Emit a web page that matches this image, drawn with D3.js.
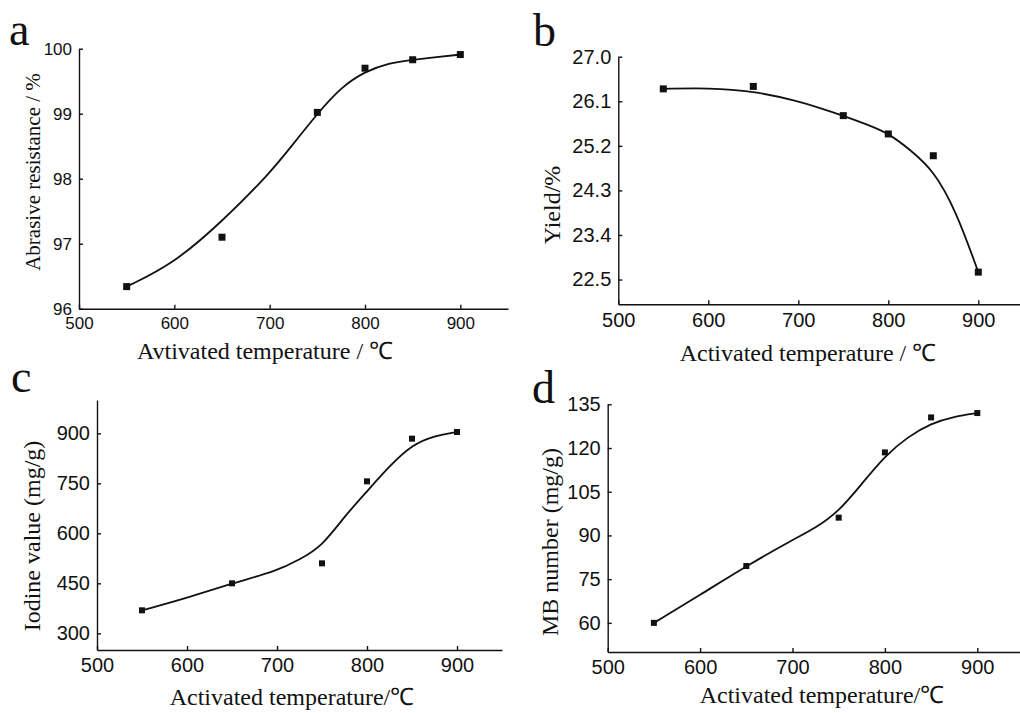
<!DOCTYPE html>
<html lang="en">
<head>
<meta charset="utf-8">
<title>Activation temperature panels</title>
<script src="https://d3js.org/d3.v7.min.js"></script>
<style type="text/css">
    body { margin: 0; background: #fff; }
    .tick text { font-family: "Liberation Sans", Arial, sans-serif; fill: #111; }
    .axis path, .axis line { stroke: #111; stroke-width: 1.4px; }
    .title { font-family: "Liberation Serif", "Times New Roman", serif; fill: #111; }
</style>
</head>
<body>
<script type="text/javascript">
// measured temperatures
var temps = [550, 650, 750, 800, 850, 900];
var abrasion = [96.34, 97.10, 99.02, 99.70, 99.83, 99.91];
var yieldPct = [26.35, 26.40, 25.81, 25.44, 25.00, 22.65];
var iodine = [369, 450, 510, 756, 884, 904];
var mbNumber = [60.0, 79.5, 96.1, 118.5, 130.5, 132.0];

// fitted curves
var fitTemps = [550, 600, 650, 700, 725, 750, 775, 800, 825, 850, 875, 900];
var abrasionFit = [96.34, 96.70, 97.34, 98.08, 98.54, 99.00, 99.41, 99.65, 99.78, 99.83, 99.87, 99.91];
var yieldFit = [26.35, 26.37, 26.31, 26.10, 25.96, 25.81, 25.64, 25.46, 25.11, 24.71, 23.90, 22.65];
var iodineFit = [369, 406, 450, 487, 521, 561, 651, 726, 802, 866, 893, 904];
var mbFit = [60.0, 69.6, 79.5, 88.5, 92.5, 98.2, 107.7, 117.3, 123.9, 128.5, 130.8, 132.0];

// axes
var xDomain = [500, 950];
var xTicks = [500, 600, 700, 800, 900];
var yTicksA = [96, 97, 98, 99, 100];
var yTicksB = [22.5, 23.4, 24.3, 25.2, 26.1, 27.0];
var yTicksC = [300, 450, 600, 750, 900];
var yTicksD = [60, 75, 90, 105, 120, 135];

var w = 1020, h = 713;
var svg = d3.select("body").append("svg")
    .attr("width", w)
    .attr("height", h);

function drawPanel(p) {
    var x = d3.scaleLinear().domain(xDomain).range(p.xRange);
    var y = d3.scaleLinear().domain(p.yDomain).range(p.yRange);
    var g = svg.append("g");

    g.append("g")
        .attr("class", "axis")
        .attr("transform", "translate(0," + p.yRange[0] + ")")
        .call(d3.axisBottom(x).tickValues(xTicks).tickSizeInner(-4).tickSizeOuter(0).tickPadding(p.xPad))
        .selectAll("text").style("font-size", p.tickSize + "px");

    g.append("g")
        .attr("class", "axis")
        .attr("transform", "translate(" + p.xRange[0] + ",0)")
        .call(d3.axisLeft(y).tickValues(p.yTicks).tickSizeInner(-4).tickSizeOuter(0).tickPadding(7)
            .tickFormat(p.fmt))
        .selectAll("text").style("font-size", p.tickSize + "px");

    // smooth fit through the read-off knots
    var fit = p.fitVals.map(function(v, i) { return [fitTemps[i], v]; });
    g.append("path")
        .datum(fit)
        .attr("fill", "none")
        .attr("stroke", "#111")
        .attr("stroke-width", 1.8)
        .attr("d", d3.line()
            .curve(d3.curveBasis)
            .x(function(d) { return x(d[0]); })
            .y(function(d) { return y(d[1]); }));

    g.selectAll("rect.pt")
        .data(p.vals)
        .enter()
        .append("rect")
        .attr("class", "pt")
        .attr("x", function(d, i) { return x(temps[i]) - p.ms / 2; })
        .attr("y", function(d) { return y(d) - p.ms / 2; })
        .attr("width", p.ms)
        .attr("height", p.ms)
        .attr("fill", "#111");

    // panel letter
    g.append("text")
        .attr("class", "title")
        .attr("x", p.letterPos[0])
        .attr("y", p.letterPos[1])
        .style("font-size", "46px")
        .text(p.letter);

    // x title
    g.append("text")
        .attr("class", "title")
        .attr("x", p.xTitlePos[0])
        .attr("y", p.xTitlePos[1])
        .attr("text-anchor", "middle")
        .style("font-size", "24px")
        .text(p.xTitle);

    // y title
    g.append("text")
        .attr("class", "title")
        .attr("transform", "translate(" + p.yTitlePos[0] + "," + p.yTitlePos[1] + ") rotate(-90)")
        .attr("text-anchor", "middle")
        .attr("dominant-baseline", "central")
        .style("font-size", p.yTitleSize + "px")
        .text(p.yTitle);
}

drawPanel({
    letter: "a", letterPos: [9, 45],
    xRange: [79, 508], yDomain: [96, 100], yRange: [308.7, 48.7],
    yTicks: yTicksA, fmt: d3.format("d"), xPad: 8, tickSize: 17,
    vals: abrasion, fitVals: abrasionFit, ms: 7,
    xTitle: "Avtivated temperature / \u2103", xTitlePos: [265, 359],
    yTitle: "Abrasive resistance / %", yTitlePos: [33, 172], yTitleSize: 21
});

drawPanel({
    letter: "b", letterPos: [533, 46],
    xRange: [618.3, 1023.3], yDomain: [22, 27], yRange: [304.3, 56.7],
    yTicks: yTicksB, fmt: d3.format(".1f"), xPad: 9, tickSize: 20,
    vals: yieldPct, fitVals: yieldFit, ms: 7,
    xTitle: "Activated temperature / \u2103", xTitlePos: [808, 361],
    yTitle: "Yield/%", yTitlePos: [552, 205], yTitleSize: 24
});

drawPanel({
    letter: "c", letterPos: [11, 392],
    xRange: [97, 502], yDomain: [250, 1000], yRange: [650, 400],
    yTicks: yTicksC, fmt: d3.format("d"), xPad: 8, tickSize: 20,
    vals: iodine, fitVals: iodineFit, ms: 6,
    xTitle: "Activated temperature/\u2103", xTitlePos: [292, 705],
    yTitle: "Iodine value (mg/g)", yTitlePos: [32, 536], yTitleSize: 24
});

drawPanel({
    letter: "d", letterPos: [532, 403],
    xRange: [607.7, 1023.5], yDomain: [50, 135], yRange: [652, 404.3],
    yTicks: yTicksD, fmt: d3.format("d"), xPad: 8, tickSize: 20,
    vals: mbNumber, fitVals: mbFit, ms: 6,
    xTitle: "Activated temperature/\u2103", xTitlePos: [822, 703],
    yTitle: "MB number (mg/g)", yTitlePos: [550, 542], yTitleSize: 24
});
</script>
</body>
</html>
